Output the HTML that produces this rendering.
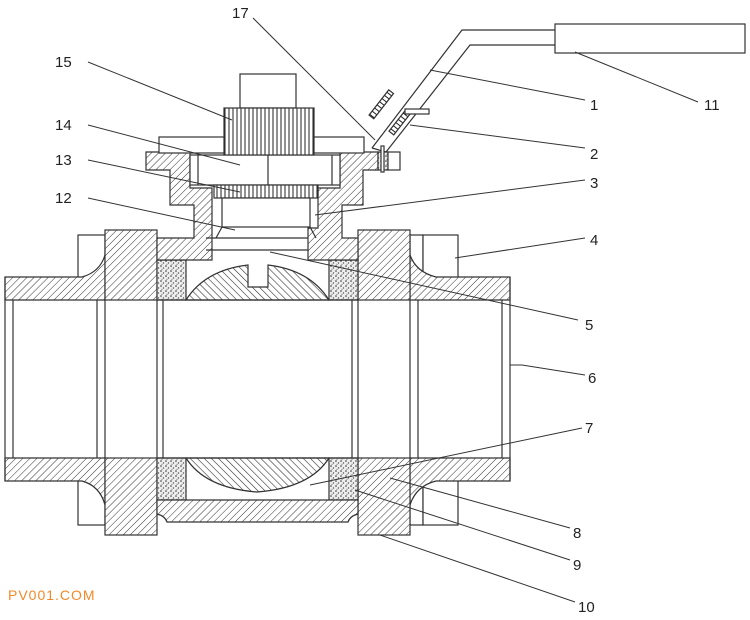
<!DOCTYPE html>
<html><head><meta charset="utf-8"><style>
body{margin:0;background:#fff}
svg{display:block}
text{font-family:"Liberation Sans",sans-serif;font-size:15px;fill:#222}
</style></head><body>
<svg width="750" height="620" viewBox="0 0 750 620" xmlns="http://www.w3.org/2000/svg">
<defs>
<pattern id="h" width="5" height="5" patternUnits="userSpaceOnUse" patternTransform="rotate(45)">
<rect width="5" height="5" fill="#fff"/><line x1="0" y1="0" x2="0" y2="5" stroke="#333" stroke-width="1"/></pattern>
<pattern id="h2" width="5" height="5" patternUnits="userSpaceOnUse" patternTransform="rotate(-45)">
<rect width="5" height="5" fill="#fff"/><line x1="0" y1="0" x2="0" y2="5" stroke="#333" stroke-width="1.2"/></pattern>
<pattern id="v" width="4" height="4" patternUnits="userSpaceOnUse">
<rect width="4" height="4" fill="#fff"/><line x1="1" y1="0" x2="1" y2="4" stroke="#222" stroke-width="1"/></pattern>
<pattern id="s" width="5" height="5" patternUnits="userSpaceOnUse">
<rect width="5" height="5" fill="#eee"/><circle cx="1" cy="1" r="0.8" fill="#333"/><circle cx="3.5" cy="3" r="0.7" fill="#555"/><circle cx="2" cy="4.2" r="0.5" fill="#444"/></pattern>
</defs>
<g stroke="#333" stroke-width="1.2" fill="none">
<rect x="78" y="235" width="27" height="290" fill="#fff"/>
<rect x="410" y="235" width="13" height="290" fill="#fff"/>
<rect x="423" y="235" width="35" height="290" fill="#fff"/>
<rect x="5" y="300" width="505" height="158" fill="#fff" stroke="none"/>
<path d="M5,277 H82 Q100,272 105,255 V300 H5 Z" fill="url(#h)"/>
<path d="M5,481 H82 Q100,486 105,505 V458 H5 Z" fill="url(#h)"/>
<path d="M510,277 H436 Q416,272 410,255 V300 H510 Z" fill="url(#h)"/>
<path d="M510,481 H436 Q416,486 410,505 V458 H510 Z" fill="url(#h)"/>
<rect x="105" y="230" width="52" height="70" fill="url(#h)"/>
<rect x="105" y="458" width="52" height="77" fill="url(#h)"/>
<rect x="358" y="230" width="52" height="70" fill="url(#h)"/>
<rect x="358" y="458" width="52" height="77" fill="url(#h)"/>
<rect x="157" y="260" width="29" height="40" fill="url(#s)"/>
<rect x="157" y="458" width="29" height="42" fill="url(#s)"/>
<rect x="329" y="260" width="29" height="40" fill="url(#s)"/>
<rect x="329" y="458" width="29" height="42" fill="url(#s)"/>
<path d="M157,500 H358 V514 Q350,516 348,522 H167 Q165,516 157,514 Z" fill="url(#h)"/>
<path d="M186,300 Q205,270 248,265 V287 H268 V265 Q310,270 329,300 Z" fill="url(#h2)"/>
<path d="M186,458 Q205,488 257,492 Q310,488 329,458 Z" fill="url(#h2)"/>
<path d="M13,300 V458 M97,300 V458 M105,300 V458 M157,300 V458 M163,300 V458 M352,300 V458 M358,300 V458 M410,300 V458 M418,300 V458 M502,300 V458 M5,277 V481 M510,277 V481"/>
<path d="M157,300 H358 M157,458 H358"/>
<path d="M146,152 H190 V188 H212 V260 H157 V238 H194 V205 H170 V170 H146 Z" fill="url(#h)"/>
<path d="M343,152 H378 V170 H363 V205 H342 V238 H358 V260 H308 V228 H318 V188 H340 V152 Z" fill="url(#h)"/>
<rect x="378" y="152" width="10" height="18" fill="url(#s)"/>
<rect x="388" y="152" width="12" height="18" fill="#fff"/>
<path d="M206,250 H308 M206,238 H308"/>
<rect x="159" y="137" width="205" height="16" fill="#fff"/>
<rect x="190" y="155" width="150" height="30" fill="#fff"/>
<path d="M268,155 V185 M198,155 V185 M332,155 V185"/>
<rect x="214" y="185" width="104" height="13" fill="url(#v)"/>
<rect x="222" y="198" width="88" height="29" fill="#fff"/>
<path d="M222,227 L216,238 M310,227 L316,238"/>
<rect x="240" y="74" width="56" height="34" fill="#fff"/>
<rect x="224" y="108" width="90" height="47" fill="url(#v)"/>
<path d="M372,148 L462,30 H555 M386,152 L470,45 H555" fill="none"/>
<path d="M372,148 L386,152" />
<rect x="555" y="24" width="190" height="29" fill="#fff"/>
<g transform="translate(386,108) rotate(-52)"><rect x="-16" y="-9" width="32" height="6" fill="url(#v)"/></g>
<g transform="translate(400,122) rotate(-52)"><rect x="-14" y="-3" width="28" height="6" fill="url(#v)"/></g>
<rect x="405" y="109" width="24" height="5" fill="#fff"/>
<rect x="381" y="146" width="3" height="26" fill="#fff"/>
<g stroke-width="1">
<path d="M253,18 L375,140"/>
<path d="M88,62 L232,120"/>
<path d="M88,125 L240,165"/>
<path d="M88,160 L240,192"/>
<path d="M88,198 L235,230"/>
<path d="M585,100 L430,70"/>
<path d="M698,102 L575,52"/>
<path d="M585,148 L410,125"/>
<path d="M585,180 L315,215"/>
<path d="M585,238 L455,258"/>
<path d="M578,320 L270,252"/>
<path d="M585,375 L522,365 H510"/>
<path d="M582,428 L310,485"/>
<path d="M570,528 L390,478"/>
<path d="M570,560 L355,490"/>
<path d="M575,602 L380,535"/>
</g>
</g>
<text x="232" y="18">17</text>
<text x="55" y="67">15</text>
<text x="55" y="130">14</text>
<text x="55" y="165">13</text>
<text x="55" y="203">12</text>
<text x="590" y="110">1</text>
<text x="704" y="110">11</text>
<text x="590" y="159">2</text>
<text x="590" y="188">3</text>
<text x="590" y="245">4</text>
<text x="585" y="330">5</text>
<text x="588" y="383">6</text>
<text x="585" y="433">7</text>
<text x="573" y="538">8</text>
<text x="573" y="570">9</text>
<text x="578" y="612">10</text>
<text x="8" y="600" style="fill:#f08a2a;font-size:14px;letter-spacing:1px">PV001.COM</text>
</svg>
</body></html>
